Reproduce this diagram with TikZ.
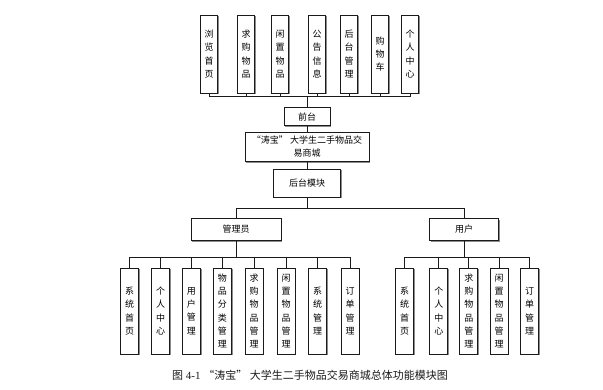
\documentclass[tikz,border=0pt]{standalone}
\usepackage{fontspec}
\setmainfont{Liberation Serif}
\newfontfamily\cjk{Noto Sans CJK SC}
\usepackage{tikz}
\usetikzlibrary{shadows}
\definecolor{INK}{HTML}{1A1A1A}
\definecolor{SHD}{HTML}{8C8C8C}

\begin{document}
\begin{tikzpicture}[
  x=1pt, y=-1pt,
  font=\cjk\fontsize{9}{13.3}\selectfont,
  box/.style={draw=INK, line width=0.9pt, fill=white, inner sep=0pt, align=center,
    drop shadow={shadow xshift=1.3pt, shadow yshift=-1.3pt, fill=SHD, opacity=1}},
  vbox/.style={box, minimum width=17, minimum height=78},
  lbox/.style={box, minimum width=18, minimum height=86},
  link/.style={draw=INK, line width=0.9pt},
]
\useasboundingbox (0,0) rectangle (603,389);

% ===== front end =====
\foreach \i/\x/\t in {1/209/浏\\览\\首\\页, 2/246/求\\购\\物\\品, 3/280/闲\\置\\物\\品,
  4/317/公\\告\\信\\息, 5/349/后\\台\\管\\理, 6/380/购\\物\\车, 7/410/个\\人\\中\\心} {
  \node[vbox] (t\i) at (\x, 54) {\t};
}
\node[box, minimum width=46, minimum height=18] (qt) at (307, 116.7) {前台};
\foreach \i in {1,...,7} {
  \draw[link] (qt.north) -- ++(0,-10.7) -| (t\i.south);
}

% ===== main =====
\node[box, minimum width=124, minimum height=29] (sys) at (307, 146.7)
  {“涛宝” 大学生二手物品交\\易商城};
\node[box, minimum width=67, minimum height=28] (ht) at (307, 183) {后台模块};
\draw[link] (qt.south) -- (sys.north);
\draw[link] (sys.south) -- (ht.north);

% ===== admin / user =====
\node[box, minimum width=90, minimum height=22] (gly) at (236, 229.5) {管理员};
\node[box, minimum width=69, minimum height=22] (yh) at (464, 229.5) {用户};
\draw[link] (ht.south) -- ++(0,10.7) -| (gly.north);
\draw[link] (ht.south) -- ++(0,10.7) -| (yh.north);

\foreach \i/\x/\t in {1/129.5/系\\统\\首\\页, 2/160.5/个\\人\\中\\心, 3/191.3/用\\户\\管\\理,
  4/222.3/物\\品\\分\\类\\管\\理, 5/254/求\\购\\物\\品\\管\\理, 6/286/闲\\置\\物\\品\\管\\理,
  7/317.5/系\\统\\管\\理, 8/350/订\\单\\管\\理} {
  \node[lbox] (a\i) at (\x, 311) {\t};
  \draw[link] (gly.south) -- ++(0,16) -| (a\i.north);
}
\foreach \i/\x/\t in {1/404.5/系\\统\\首\\页, 2/438.8/个\\人\\中\\心, 3/468.8/求\\购\\物\\品\\管\\理,
  4/499/闲\\置\\物\\品\\管\\理, 5/529.5/订\\单\\管\\理} {
  \node[lbox] (u\i) at (\x, 311) {\t};
  \draw[link] (yh.south) -- ++(0,16) -| (u\i.north);
}

% caption
\node[font=\fontsize{11}{13}\selectfont, text=INK] (cap) at (310, 375)
  {{\cjk 图} 4-1 {\cjk “涛宝” 大学生二手物品交易商城总体功能模块图}};

\end{tikzpicture}
\end{document}
